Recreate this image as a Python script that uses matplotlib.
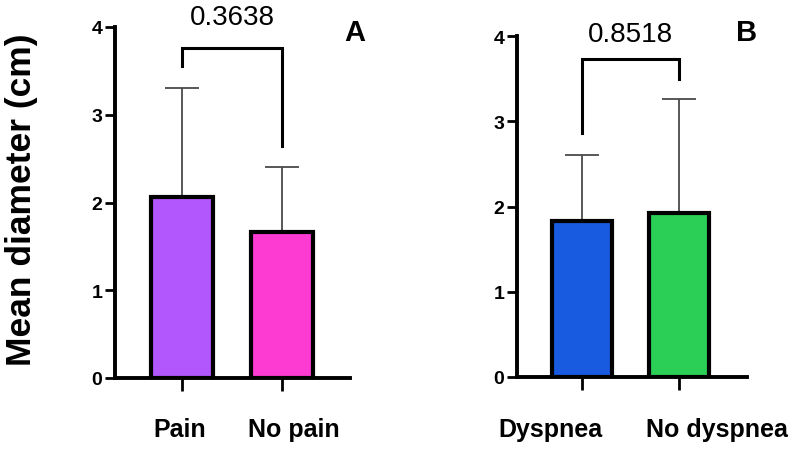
import numpy as np
import matplotlib
matplotlib.use("Agg")
import matplotlib.pyplot as plt
import matplotlib.transforms as mtransforms

plt.rcParams['font.family'] = ['Liberation Sans', 'DejaVu Sans']

# panel A: pain
pain_groups = ["Pain", "No pain"]
pain_means = [2.06, 1.66]
pain_sd = [1.25, 0.74]
pain_colors = ["#b157fd", "#fd3bd3"]
pain_p = "0.3638"
pain_bracket = [3.76, 3.55, 2.64]   # top, left leg end, right leg end

# panel B: dyspnea
dysp_groups = ["Dyspnea", "No dyspnea"]
dysp_means = [1.83, 1.92]
dysp_sd = [0.77, 1.34]
dysp_colors = ["#185ae0", "#2bcf55"]
dysp_p = "0.8518"
dysp_bracket = [3.73, 2.86, 3.50]

W, H = 797, 452


def draw_panel(ax, groups, means, sd, colors, p_text, bracket, xlim, p_y, label_shift):
    x = np.arange(len(groups))
    ax.errorbar(x, means, yerr=[np.zeros(len(sd)), sd], fmt='none',
                ecolor='#4a4a4a', elinewidth=1.3, capsize=12, capthick=1.3, zorder=1)
    ax.bar(x, means, width=0.62, color=colors, edgecolor='black', linewidth=3, zorder=2)

    top, left_end, right_end = bracket
    ax.plot([x[0], x[0], x[1], x[1]], [left_end, top, top, right_end],
            color='black', lw=2.2, solid_joinstyle='miter', zorder=3)
    ax.text(0.5, p_y, p_text, ha='center', va='center', fontsize=20, clip_on=False)

    ax.set_xlim(*xlim)
    ax.set_ylim(0, 4)
    ax.set_yticks([0, 1, 2, 3, 4])
    ax.set_xticks(x)
    ax.set_xticklabels([])
    # category labels sit a bit off the tick marks, as in the original
    trans = mtransforms.blended_transform_factory(ax.transData, fig.transFigure)
    for xi, name, dx in zip(x, groups, label_shift):
        ax.text(xi + dx, 1 - 437 / H, name, transform=trans, ha='center',
                va='baseline', fontsize=18, fontweight='bold', clip_on=False)
    for lab in ax.get_yticklabels():
        lab.set_fontweight('bold')
        lab.set_fontsize(14)
    ax.spines['top'].set_visible(False)
    ax.spines['right'].set_visible(False)
    ax.spines['left'].set_linewidth(2.8)
    ax.spines['bottom'].set_linewidth(2.8)
    ax.tick_params(axis='y', length=7, width=2, pad=2)
    ax.tick_params(axis='x', length=9.5, width=2)


fig = plt.figure(figsize=(W / 100, H / 100), dpi=100)

axA = fig.add_axes([115 / W, (H - 379) / H, (350 - 115) / W, (379 - 28) / H])
draw_panel(axA, pain_groups, pain_means, pain_sd, pain_colors, pain_p,
           pain_bracket, (-0.67, 1.68), 4.11, [-0.02, 0.12])

axB = fig.add_axes([517 / W, (H - 378) / H, (747 - 517) / W, (378 - 37) / H])
draw_panel(axB, dysp_groups, dysp_means, dysp_sd, dysp_colors, dysp_p,
           dysp_bracket, (-0.67, 1.70), 4.02, [-0.33, 0.39])

fig.text(355 / W, 1 - 33 / H, "A", fontsize=21, fontweight='bold', ha='center', va='center')
fig.text(747 / W, 1 - 33 / H, "B", fontsize=21, fontweight='bold', ha='center', va='center')
fig.text(22 / W, 1 - 200 / H, "Mean diameter (cm)", fontsize=25.5, fontweight='bold',
         rotation=90, ha='center', va='center')

fig.savefig("out.png", dpi=100)
